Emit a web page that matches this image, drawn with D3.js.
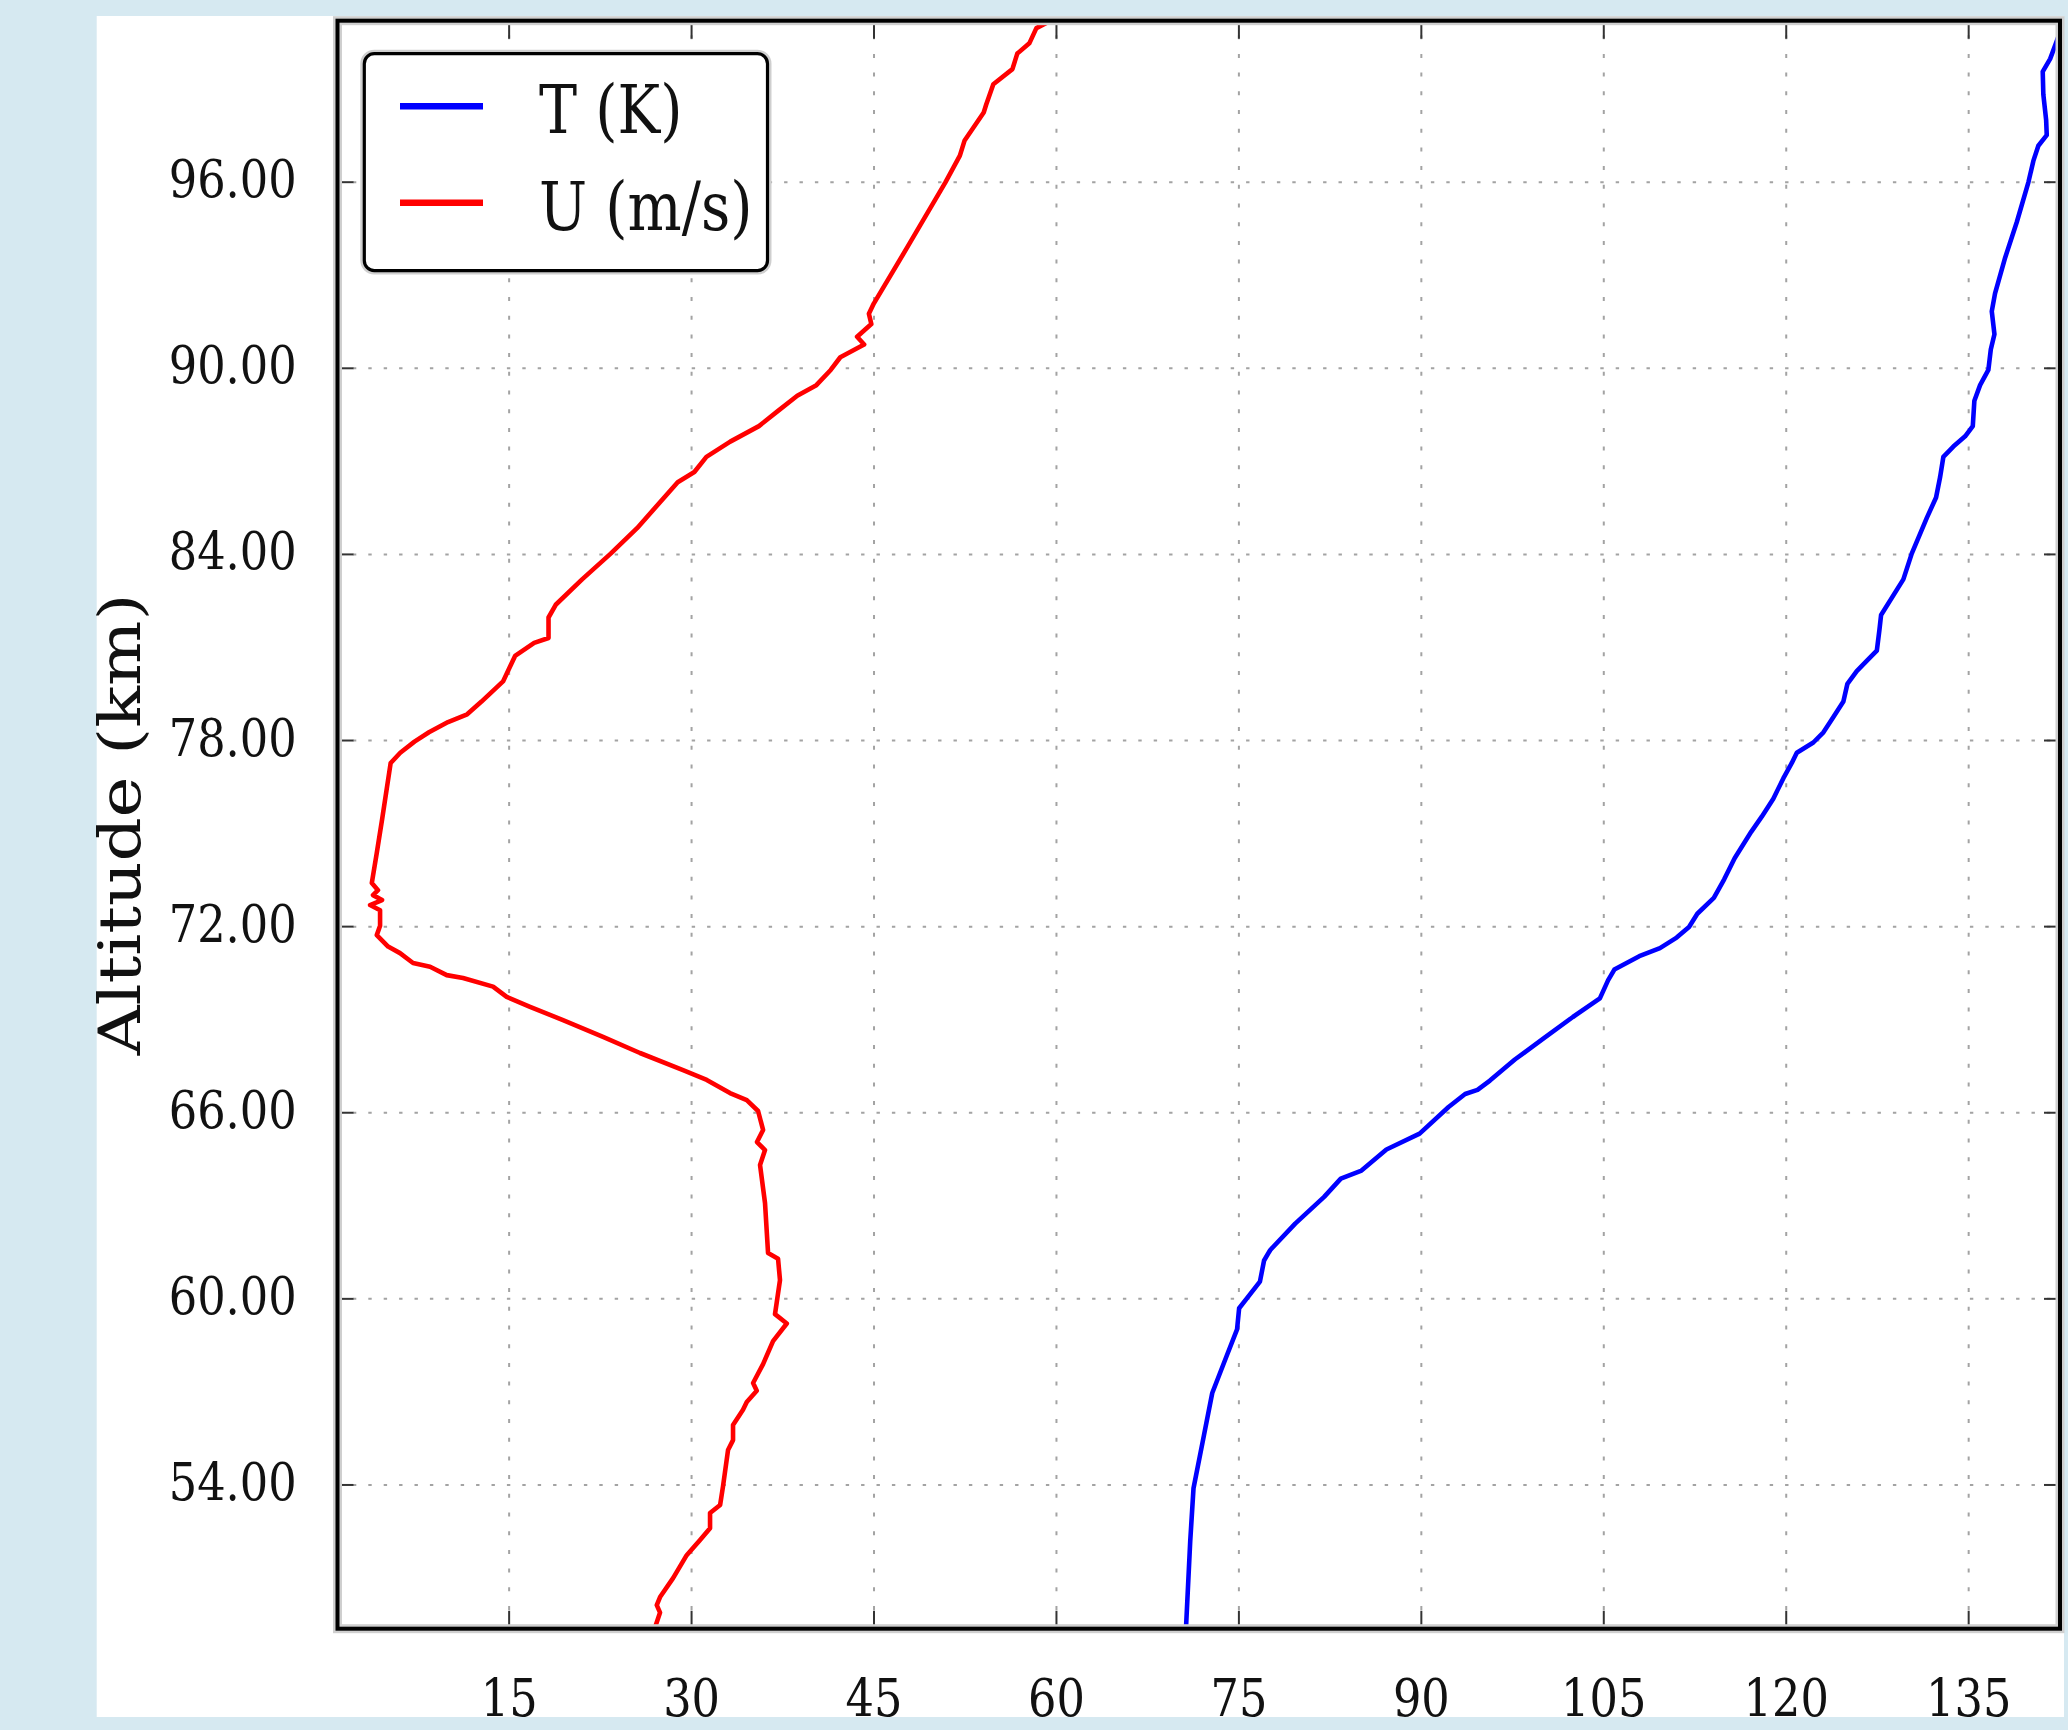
<!DOCTYPE html>
<html>
<head>
<meta charset="utf-8">
<script src="https://cdn.jsdelivr.net/npm/d3@7"></script>
<style>
  html, body { margin: 0; padding: 0; background: #d6e9f1; }
  svg { display: block; }
</style>
</head>
<body>
<svg id="chart" width="2068" height="1730"></svg>
<script>
// ---------------- data ----------------
const xTicks = [15, 30, 45, 60, 75, 90, 105, 120, 135];
const yTicks = [54, 60, 66, 72, 78, 84, 90, 96];
const xDomain = [0.93, 142.55];
const yDomain = [49.35, 101.19];
const seriesNames = ["T (K)", "U (m/s)"];
const yLabel = "Altitude (km)";

// Temperature profile (T, K) vs altitude (km)
const tAlt = [101.3, 100.54, 99.96, 99.55, 98.81, 97.99, 97.50, 97.16, 96.67, 95.98, 94.70, 93.55, 92.40, 91.82, 91.08, 90.59, 89.93, 89.44, 88.94, 88.12, 87.79, 87.46, 87.13, 86.47, 85.82, 85.16, 84.01, 83.18, 82.03, 81.54, 80.88, 80.55, 80.22, 79.81, 79.24, 78.74, 78.25, 77.92, 77.59, 77.26, 76.77, 76.11, 75.53, 75.04, 74.19, 73.51, 72.91, 72.40, 71.97, 71.63, 71.29, 71.03, 70.60, 70.26, 69.67, 69.07, 68.39, 67.70, 67.02, 66.72, 66.59, 66.17, 65.31, 64.80, 64.12, 63.86, 63.27, 62.41, 61.56, 61.22, 60.54, 60.11, 59.68, 59.00, 58.15, 56.95, 55.59, 53.88, 52.18, 49.44, 49.30];
const tVal = [143.0, 142.29, 141.74, 141.13, 141.18, 141.41, 141.46, 140.77, 140.36, 139.95, 139.00, 138.04, 137.21, 136.94, 137.16, 136.86, 136.66, 135.98, 135.51, 135.38, 134.75, 133.78, 132.96, 132.69, 132.36, 131.60, 130.36, 129.67, 127.84, 127.70, 127.49, 126.66, 125.84, 125.07, 124.74, 123.92, 123.10, 122.27, 120.91, 120.50, 119.81, 118.98, 118.03, 117.16, 115.80, 114.94, 114.09, 112.73, 112.05, 111.03, 109.66, 107.96, 105.91, 105.40, 104.72, 102.50, 100.12, 97.73, 95.68, 94.66, 93.64, 92.28, 89.90, 87.17, 85.12, 83.42, 82.05, 79.67, 77.62, 77.11, 76.77, 75.92, 75.06, 74.89, 74.04, 72.85, 72.17, 71.31, 71.04, 70.70, 70.69];

// Zonal wind profile (U, m/s) vs altitude (km)
const uAlt = [101.30, 101.15, 100.95, 100.46, 100.13, 99.63, 99.14, 98.48, 98.23, 97.33, 96.84, 95.98, 93.88, 92.07, 91.74, 91.41, 91.00, 90.75, 90.34, 89.93, 89.44, 89.10, 88.61, 88.12, 87.62, 87.13, 86.64, 86.31, 84.83, 84.01, 83.18, 82.36, 81.95, 81.29, 81.13, 80.71, 79.89, 79.24, 78.83, 78.58, 78.25, 77.95, 77.59, 77.26, 75.45, 74.36, 73.39, 73.16, 73.00, 72.84, 72.68, 72.51, 72.01, 71.71, 71.34, 71.13, 70.81, 70.69, 70.42, 70.33, 70.05, 69.72, 69.40, 68.97, 68.43, 67.91, 67.36, 67.04, 66.62, 66.39, 66.04, 65.43, 65.04, 64.78, 64.30, 63.07, 61.46, 61.28, 60.59, 59.86, 59.49, 59.19, 58.62, 57.88, 57.27, 57.02, 56.66, 56.41, 55.92, 55.43, 55.11, 53.95, 53.34, 53.08, 52.59, 52.21, 51.72, 50.98, 50.37, 50.11, 49.87, 49.35];
const uVal = [59.9, 59.37, 58.39, 57.81, 56.82, 56.42, 54.85, 54.26, 54.06, 52.49, 52.10, 50.91, 47.77, 45.02, 44.62, 44.82, 43.65, 44.23, 42.27, 41.48, 40.30, 38.73, 37.15, 35.58, 33.22, 31.26, 30.27, 28.90, 25.56, 23.39, 21.04, 18.87, 18.28, 18.28, 17.10, 15.53, 14.54, 12.77, 11.59, 10.02, 8.45, 7.26, 6.09, 5.30, 4.60, 4.16, 3.75, 4.26, 3.85, 4.59, 3.61, 4.43, 4.43, 4.16, 5.09, 6.07, 7.14, 8.54, 9.91, 11.25, 13.72, 14.84, 16.76, 19.47, 22.76, 25.80, 29.34, 31.29, 33.20, 34.58, 35.51, 35.92, 35.42, 36.08, 35.67, 36.08, 36.33, 37.15, 37.31, 37.04, 36.90, 37.87, 36.74, 35.92, 35.10, 35.40, 34.58, 34.27, 33.45, 33.45, 33.04, 32.63, 32.39, 31.56, 31.56, 30.74, 29.64, 28.52, 27.45, 27.18, 27.45, 27.0];

// ---------------- layout ----------------
const svg = d3.select("#chart");
const L = 337.5, R = 2060, T = 20.7, B = 1628.7;
const FONT = "'DejaVu Serif', 'Liberation Serif', serif";

svg.append("rect").attr("x", 0).attr("y", 0).attr("width", 2068).attr("height", 1730).attr("fill", "#d6e9f1");
svg.append("rect").attr("x", 96.7).attr("y", 16).attr("width", 2064 - 96.7).attr("height", 1717 - 16).attr("fill", "#ffffff");

const x = d3.scaleLinear().domain(xDomain).range([L, R]);
const y = d3.scaleLinear().domain(yDomain).range([B, T]);

svg.append("defs").append("clipPath").attr("id", "clip")
  .append("rect").attr("x", L).attr("y", T).attr("width", R - L).attr("height", B - T);

// grid
const gridV = svg.append("g").attr("transform", `translate(0,${B})`)
  .call(d3.axisBottom(x).tickValues(xTicks).tickSize(-(B - T)).tickFormat(""));
gridV.select(".domain").remove();
gridV.selectAll(".tick line").attr("stroke", "#a3a3a3").attr("stroke-width", 2).attr("stroke-dasharray", "4,14.7");

const gridH = svg.append("g").attr("transform", `translate(${L},0)`)
  .call(d3.axisLeft(y).tickValues(yTicks).tickSize(-(R - L)).tickFormat(""));
gridH.select(".domain").remove();
gridH.selectAll(".tick line").attr("stroke", "#a3a3a3").attr("stroke-width", 2).attr("stroke-dasharray", "3.4,12");

// curves
const tData = tAlt.map((a, i) => ({ alt: a, v: tVal[i] }));
const uData = uAlt.map((a, i) => ({ alt: a, v: uVal[i] }));
const line = d3.line().x(d => x(d.v)).y(d => y(d.alt));
const curves = svg.append("g").attr("clip-path", "url(#clip)");
curves.append("path").datum(uData).attr("d", line).attr("fill", "none")
  .attr("stroke", "#ff0000").attr("stroke-width", 4.6).attr("stroke-linejoin", "round");
curves.append("path").datum(tData).attr("d", line).attr("fill", "none")
  .attr("stroke", "#0000ff").attr("stroke-width", 4.6).attr("stroke-linejoin", "round");

// ticks (inward on all sides)
function styleTicks(g) {
  g.select(".domain").remove();
  g.selectAll(".tick line").attr("stroke", "#333").attr("stroke-width", 2);
}
const axB = svg.append("g").attr("transform", `translate(0,${B})`)
  .call(d3.axisBottom(x).tickValues(xTicks).tickSize(-18).tickFormat(d3.format("d")));
styleTicks(axB);
axB.selectAll(".tick text")
  .attr("y", 0).attr("dy", 0)
  .attr("transform", "translate(0,87.3) scale(0.86,1)")
  .attr("font-family", FONT).attr("font-size", 52).attr("fill", "#111").attr("text-anchor", "middle");

const axT = svg.append("g").attr("transform", `translate(0,${T})`)
  .call(d3.axisTop(x).tickValues(xTicks).tickSize(-18).tickFormat(""));
styleTicks(axT);

const axL = svg.append("g").attr("transform", `translate(${L},0)`)
  .call(d3.axisLeft(y).tickValues(yTicks).tickSize(-16).tickFormat(d3.format(".2f")));
styleTicks(axL);
axL.selectAll(".tick text")
  .attr("x", 0).attr("dy", 0)
  .attr("transform", "translate(-40.8,15) scale(0.86,1)")
  .attr("font-family", FONT).attr("font-size", 52).attr("fill", "#111").attr("text-anchor", "end");

const axR = svg.append("g").attr("transform", `translate(${R},0)`)
  .call(d3.axisRight(y).tickValues(yTicks).tickSize(-16).tickFormat(""));
styleTicks(axR);

// frame
svg.append("rect").attr("x", L).attr("y", T).attr("width", R - L).attr("height", B - T)
  .attr("fill", "none").attr("stroke", "#cfcfcf").attr("stroke-width", 9);
svg.append("rect").attr("x", L).attr("y", T).attr("width", R - L).attr("height", B - T)
  .attr("fill", "none").attr("stroke", "#000").attr("stroke-width", 4);

// y label
svg.append("text")
  .attr("transform", "translate(140,824.5) scale(0.84,1) rotate(-90)")
  .attr("text-anchor", "middle")
  .attr("font-family", FONT).attr("font-size", 69).attr("fill", "#111")
  .text(yLabel);

// legend
const lg = svg.append("g");
lg.append("rect").attr("x", 364.3).attr("y", 53.7).attr("width", 767.5 - 364.3).attr("height", 270.6 - 53.7)
  .attr("rx", 10).attr("fill", "#fff").attr("stroke", "#cfcfcf").attr("stroke-width", 8);
lg.append("rect").attr("x", 364.3).attr("y", 53.7).attr("width", 767.5 - 364.3).attr("height", 270.6 - 53.7)
  .attr("rx", 10).attr("fill", "#fff").attr("stroke", "#000").attr("stroke-width", 3.2);
const legendColors = ["#0000ff", "#ff0000"];
const legendY = [106.3, 202.7];
const legendBase = [132.7, 229.5];
seriesNames.forEach((name, i) => {
  lg.append("line").attr("x1", 400).attr("x2", 483).attr("y1", legendY[i]).attr("y2", legendY[i])
    .attr("stroke", legendColors[i]).attr("stroke-width", 6.5);
  lg.append("text").attr("transform", `translate(539,${legendBase[i]}) scale(0.84,1)`)
    .attr("font-family", FONT).attr("font-size", 68).attr("fill", "#111").text(name);
});
</script>
</body>
</html>
